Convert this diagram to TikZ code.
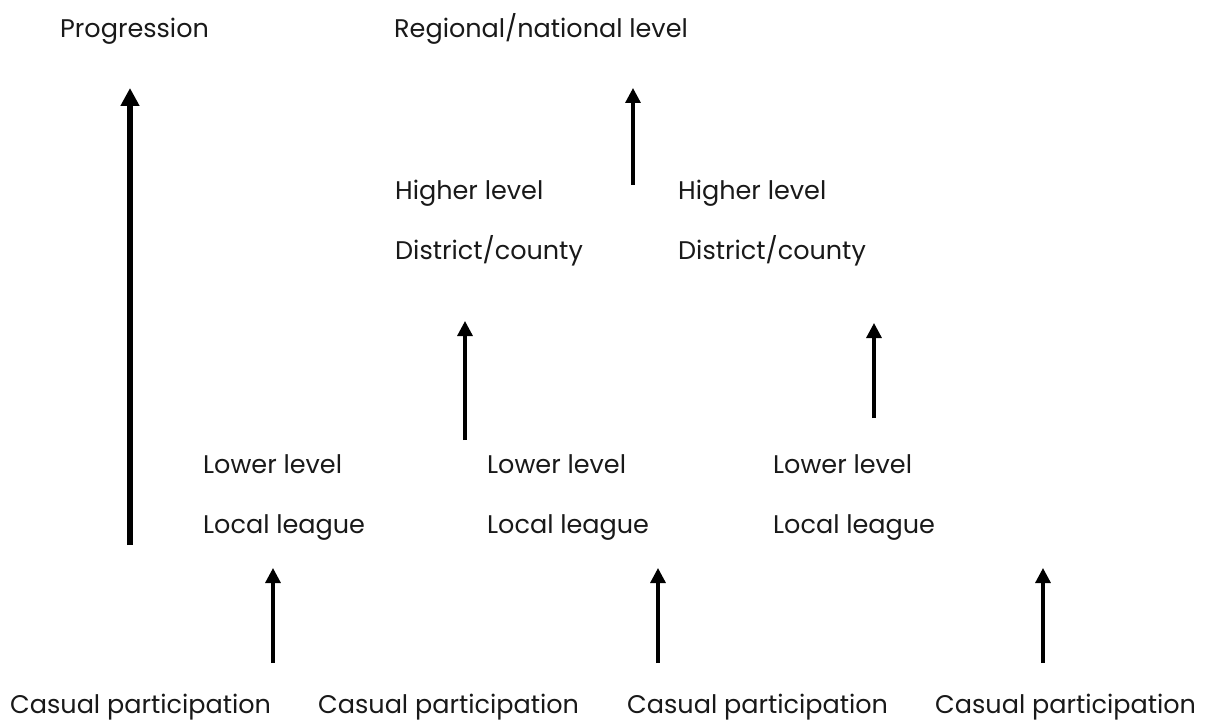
\documentclass[tikz,border=0pt]{standalone}
\usepackage{fontspec}
\setmainfont{Poppins}
\usetikzlibrary{arrows.meta}
\begin{document}
\begin{tikzpicture}[x=1pt,y=-1pt,
  lbl/.style={anchor=base west,inner sep=0pt,font=\fontsize{25.5}{28}\selectfont,text=black!90},
  uparrow/.style={line width=3.2pt,-{Triangle[width=15pt,length=15pt]}},
  bigarrow/.style={line width=6pt,-{Triangle[width=18pt,length=18pt]}}]
\useasboundingbox[fill=white] (0,0) rectangle (1225,722);
% labels
\node[lbl] (prog) at (60,38) {Progression};
\node[lbl] (reg) at (394,38) {Regional/national level};
\node[lbl] (hi1) at (395,199) {Higher level};
\node[lbl] (hi2) at (678,199) {Higher level};
\node[lbl] (dc1) at (395,259) {District/county};
\node[lbl] (dc2) at (678,259) {District/county};
\node[lbl] (lo1) at (203,473) {Lower level};
\node[lbl] (lo2) at (487,473) {Lower level};
\node[lbl] (lo3) at (773,473) {Lower level};
\node[lbl] (ll1) at (203,533) {Local league};
\node[lbl] (ll2) at (487,533) {Local league};
\node[lbl] (ll3) at (773,533) {Local league};
\node[lbl] (cp1) at (10,713) {Casual participation};
\node[lbl] (cp2) at (318,713) {Casual participation};
\node[lbl] (cp3) at (627,713) {Casual participation};
\node[lbl] (cp4) at (935,713) {Casual participation};
% arrow end points
\coordinate (pS) at (130,545); \coordinate (pE) at (130,88);
\coordinate (rS) at (633,185); \coordinate (rE) at (633,88);
\coordinate (dS1) at (465,440); \coordinate (dE1) at (465,321);
\coordinate (dS2) at (874,418); \coordinate (dE2) at (874,323);
\coordinate (lS1) at (273,663); \coordinate (lE1) at (273,568);
\coordinate (lS2) at (658,663); \coordinate (lE2) at (658,568);
\coordinate (lS3) at (1043,663); \coordinate (lE3) at (1043,568);
% arrows
\draw[bigarrow] (pS) -- (pE);
\draw[uparrow] (rS) -- (rE);
\draw[uparrow] (dS1) -- (dE1);
\draw[uparrow] (dS2) -- (dE2);
\draw[uparrow] (lS1) -- (lE1);
\draw[uparrow] (lS2) -- (lE2);
\draw[uparrow] (lS3) -- (lE3);
\end{tikzpicture}
\end{document}
